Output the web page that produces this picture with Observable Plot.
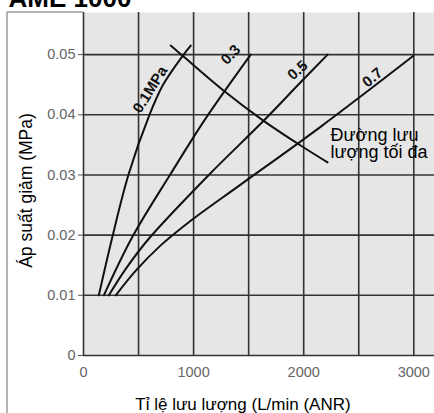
<!DOCTYPE html>
<html><head><meta charset="utf-8">
<script src="https://cdn.jsdelivr.net/npm/d3@7"></script>
<script src="https://cdn.jsdelivr.net/npm/@observablehq/plot@0.6"></script>
<style>body{margin:0;background:#fff;} #chart svg{display:block}</style>
</head><body><div id="chart"></div><script>
const title = "AME 1000";
const xLabel = "Tỉ lệ lưu lượng (L/min (ANR)";
const yLabel = "Áp suất giảm (MPa)";
const xTickValues = [0, 1000, 2000, 3000];
const xTickLabels = ["0", "1000", "2000", "3000"];
const xGridValues = [0, 500, 1000, 1500, 2000, 2500, 3000];
const yTickValues = [0, 0.01, 0.02, 0.03, 0.04, 0.05];
const yTickLabels = ["0", "0.01", "0.02", "0.03", "0.04", "0.05"];
const seriesNames = ["0.1MPa", "0.3", "0.5", "0.7"];
const flow01 = [139, 266, 411, 593, 720, 901, 974];
const drop01 = [0.010, 0.020, 0.0302, 0.0397, 0.0449, 0.0498, 0.0515];
const flow03 = [185, 447, 792, 1110, 1519];
const drop03 = [0.010, 0.0198, 0.0302, 0.0394, 0.0500];
const flow05 = [230, 384, 593, 1138, 1636, 1972, 2217];
const drop05 = [0.010, 0.0144, 0.0194, 0.030, 0.039, 0.0454, 0.0500];
const flow07 = [293, 475, 701, 974, 1427, 2153, 2997];
const drop07 = [0.010, 0.0141, 0.0183, 0.0224, 0.0284, 0.0380, 0.0498];
const maxFlowX = [792, 901, 1274, 1636, 1972, 2217];
const maxFlowY = [0.0515, 0.0498, 0.0440, 0.0390, 0.0349, 0.0321];
const maxFlowLabel = "Đường lưu\nlượng tối đa";
const maxFlowLabelX = [2244];
const maxFlowLabelY = [0.0376];
const labelX = [605, 1337, 1945, 2625];
const labelY = [0.0442, 0.0500, 0.0474, 0.0462];
const labelAngle = [-58, -46, -42, -40];

const pts = (xs, ys, s) => xs.map((x, i) => ({x, y: ys[i], s}));
const curves = [
  ...pts(flow01, drop01, seriesNames[0]),
  ...pts(flow03, drop03, seriesNames[1]),
  ...pts(flow05, drop05, seriesNames[2]),
  ...pts(flow07, drop07, seriesNames[3])
];
const maxFlow = pts(maxFlowX, maxFlowY, "max");
const labels = seriesNames.map((s, i) => ({s, x: labelX[i], y: labelY[i], r: labelAngle[i]}));
const yFmt = new Map(yTickValues.map((v, i) => [v, yTickLabels[i]]));
const xFmt = new Map(xTickValues.map((v, i) => [v, xTickLabels[i]]));

const chart = Plot.plot({
  width: 434, height: 413,
  marginLeft: 83, marginRight: 0, marginTop: 12, marginBottom: 58,
  x: {domain: [0, 3188]},
  y: {domain: [0, 0.057]},
  style: {fontFamily: "'Liberation Sans', Arial, sans-serif", background: "#fff"},
  marks: [
    Plot.frame({fill: "#e6e6e6", stroke: null}),
    Plot.gridX(xGridValues, {stroke: "#333", strokeOpacity: 1, strokeWidth: 1.6}),
    Plot.gridY(yTickValues, {stroke: "#333", strokeOpacity: 1, strokeWidth: 1.6}),
    Plot.axisY(yTickValues, {tickFormat: d => yFmt.get(d), tickSize: 5, tickPadding: 3, fontSize: 14.5, fill: "#666", stroke: "#555", label: null}),
    Plot.axisX(xTickValues, {tickFormat: d => xFmt.get(d), tickSize: 0, tickPadding: 11, fontSize: 14.5, fill: "#666", label: null}),
    Plot.line(curves, {x: "x", y: "y", z: "s", stroke: "#111", strokeWidth: 2, curve: "catmull-rom"}),
    Plot.line(maxFlow, {x: "x", y: "y", stroke: "#111", strokeWidth: 2, curve: "catmull-rom"}),
    Plot.text(labels, {x: "x", y: "y", text: "s", rotate: "r", fontSize: 15, fontWeight: "bold", fill: "#111"}),
    Plot.text([maxFlowLabel], {x: maxFlowLabelX, y: maxFlowLabelY, text: d => d, textAnchor: "start", lineAnchor: "top", fontSize: 18, lineHeight: 0.95, fill: "#000", ariaLabel: "maxflow-label"}),
    Plot.text([xLabel], {frameAnchor: "bottom", dx: -16, dy: 54, lineAnchor: "bottom", textAnchor: "middle", fontSize: 17, fill: "#000"}),
    Plot.text([yLabel], {frameAnchor: "left", dx: -57, dy: 6.5, rotate: -90, lineAnchor: "middle", textAnchor: "middle", fontSize: 17.5, fill: "#000"}),
    Plot.text([title], {frameAnchor: "top-left", dx: -75, dy: -6, lineAnchor: "bottom", textAnchor: "start", fontSize: 26, fontWeight: "bold", fill: "#000"})
  ]
});
document.getElementById("chart").appendChild(chart);
const svg = d3.select(chart);
svg.append("line").attr("x1", 7).attr("x2", 7).attr("y1", 12).attr("y2", 413).attr("stroke", "#999").attr("stroke-width", 1.5);
svg.append("line").attr("x1", 7).attr("x2", 83).attr("y1", 12).attr("y2", 12).attr("stroke", "#999").attr("stroke-width", 1.5);
const g = chart.querySelector('g[aria-label="maxflow-label"]');
if (g) {
  const t = g.querySelector("text");
  const b = t.getBBox();
  const tr = t.getAttribute("transform");
  const rect = document.createElementNS("http://www.w3.org/2000/svg", "rect");
  rect.setAttribute("x", b.x - 1); rect.setAttribute("y", b.y);
  rect.setAttribute("width", b.width + 2); rect.setAttribute("height", b.height);
  rect.setAttribute("fill", "#fff");
  if (tr) rect.setAttribute("transform", tr);
  g.insertBefore(rect, t);
}
</script></body></html>
